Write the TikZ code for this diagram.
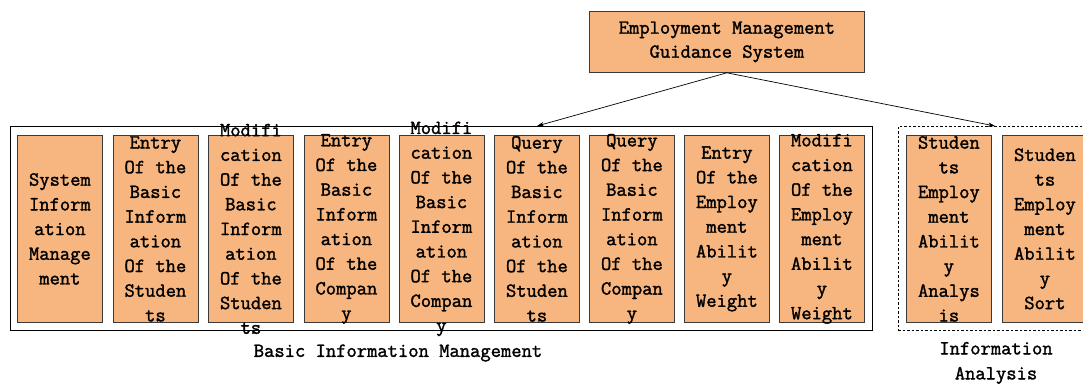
\documentclass[tikz,border=0pt]{standalone}
\usepackage{fontspec}
\setmonofont[FakeBold=1.6]{Latin Modern Mono}
\usetikzlibrary{arrows.meta}
\definecolor{cellfill}{HTML}{F7B57F}
\definecolor{celledge}{HTML}{3A3A3A}
\tikzset{
  cell/.style={draw=celledge, fill=cellfill, line width=0.8pt,
    minimum width=85pt, minimum height=187pt, inner sep=0pt, anchor=north west},
  celltext/.style={font=\ttfamily\fontsize{20}{24.7}\selectfont, align=center,
    inner sep=0pt, text=black},
  grp/.style={draw=black, line width=0.8pt, inner sep=0pt},
  link/.style={draw=black, line width=0.7pt, -{Stealth[length=7pt,width=4.5pt]}}
}
\begin{document}
\begin{tikzpicture}[x=1pt,y=-1pt]
\useasboundingbox (0,0) rectangle (1083,385);
\clip (0,0) rectangle (1083,385);

% top-level system
\node[cell, minimum width=275pt, minimum height=61pt] (sys) at (589,11) {};
\node[celltext, font=\ttfamily\fontsize{20}{24}\selectfont] (systext) at (sys.center)
  {Employment Management\\Guidance System};

% group frames
\node[grp, minimum width=862pt, minimum height=204pt, anchor=north west] (basic) at (10,126) {};
\node[grp, dashed, dash pattern=on 2.5pt off 2pt, minimum width=197pt, minimum height=204pt,
  anchor=north west] (analysis) at (898,126) {};

% basic information management modules
\node[cell] (b1) at (17,135) {};
\node[celltext] (t1) at (b1.center) {System\\Inform\\ation\\Manage\\ment};
\node[cell] (b2) at (112.5,135) {};
\node[celltext] (t2) at (b2.center) {Entry\\Of the\\Basic\\Inform\\ation\\Of the\\Studen\\ts};
\node[cell] (b3) at (208,135) {};
\node[celltext] (t3) at (b3.center) {Modifi\\cation\\Of the\\Basic\\Inform\\ation\\Of the\\Studen\\ts};
\node[cell] (b4) at (303.5,135) {};
\node[celltext] (t4) at (b4.center) {Entry\\Of the\\Basic\\Inform\\ation\\Of the\\Compan\\y};
\node[cell] (b5) at (398.5,135) {};
\node[celltext] (t5) at (b5.center) {Modifi\\cation\\Of the\\Basic\\Inform\\ation\\Of the\\Compan\\y};
\node[cell] (b6) at (494,135) {};
\node[celltext] (t6) at (b6.center) {Query\\Of the\\Basic\\Inform\\ation\\Of the\\Studen\\ts};
\node[cell] (b7) at (589,135) {};
\node[celltext] (t7) at (b7.center) {Query\\Of the\\Basic\\Inform\\ation\\Of the\\Compan\\y};
\node[cell] (b8) at (684,135) {};
\node[celltext] (t8) at (b8.center) {Entry\\Of the\\Employ\\ment\\Abilit\\y\\Weight};
\node[cell] (b9) at (779,135) {};
\node[celltext] (t9) at (b9.center) {Modifi\\cation\\Of the\\Employ\\ment\\Abilit\\y\\Weight};

% information analysis modules
\node[cell] (b10) at (906,135) {};
\node[celltext] (t10) at (b10.center) {Studen\\ts\\Employ\\ment\\Abilit\\y\\Analys\\is};
\node[cell] (b11) at (1002,135) {};
\node[celltext] (t11) at (b11.center) {Studen\\ts\\Employ\\ment\\Abilit\\y\\Sort};

% group captions
\node[celltext] (basiccap) at (398,353) {Basic Information Management};
\node[celltext, font=\ttfamily\fontsize{20}{25}\selectfont] (analysiscap) at (996,363)
  {Information\\Analysis};

% connectors from the system to the groups
\coordinate (basicin) at (537,126);
\coordinate (analysisin) at (995,126);
\draw[link] (sys.south) -- (basicin);
\draw[link] (sys.south) -- (analysisin);
\end{tikzpicture}
\end{document}
